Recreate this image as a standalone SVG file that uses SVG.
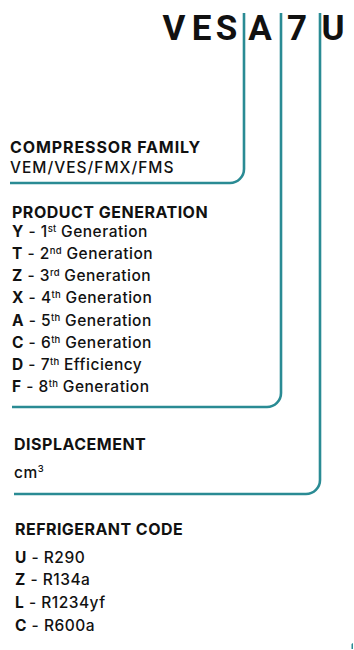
<svg xmlns="http://www.w3.org/2000/svg" width="354" height="650" viewBox="0 0 354 650">
  <style>
    .code { font-family: Roboto, "Liberation Sans", sans-serif; font-weight: 700; font-size: 35px; fill: #111; text-anchor: middle; }
    .head { font-family: Inter, "Liberation Sans", sans-serif; font-weight: 700; font-size: 16px; letter-spacing: 0.5px; fill: #111; }
    .item { font-family: Inter, "Liberation Sans", sans-serif; font-weight: 500; font-size: 15.5px; letter-spacing: 0.5px; fill: #111; }
    .item .k { font-weight: 700; }
    .sup { font-size: 9.5px; letter-spacing: 0.2px; }
    .lead { fill: none; stroke: #2a8b94; stroke-width: 2.6; }
  </style>

  <!-- model code -->
  <g id="model-code">
    <text class="code" x="174" y="40">V</text>
    <text class="code" x="201.5" y="40">E</text>
    <text class="code" x="226.5" y="40">S</text>
    <text class="code" x="260" y="40">A</text>
    <text class="code" x="297" y="40">7</text>
    <text class="code" x="333" y="40">U</text>
  </g>

  <!-- leader lines from each code letter to its legend block -->
  <g id="connectors">
    <path class="lead" d="M244 13 V169 A14 14 0 0 1 230 183 H10"/>
    <path class="lead" d="M281 13 V393 A14 14 0 0 1 267 407 H12"/>
    <path class="lead" d="M320 13 V480 A14 14 0 0 1 306 494 H14"/>
  </g>

  <g id="compressor-family">
    <text class="head" x="10" y="153" style="letter-spacing:0.9px">COMPRESSOR FAMILY</text>
    <text class="item" x="10" y="173" style="letter-spacing:1px">VEM/VES/FMX/FMS</text>
  </g>

  <g id="product-generation">
    <text class="head" x="12" y="218">PRODUCT GENERATION</text>
    <text class="item" x="12" y="237"><tspan class="k">Y</tspan> - 1<tspan class="sup" dy="-5">st</tspan><tspan dy="5"> Generation</tspan></text>
    <text class="item" x="12" y="259"><tspan class="k">T</tspan> - 2<tspan class="sup" dy="-5">nd</tspan><tspan dy="5"> Generation</tspan></text>
    <text class="item" x="12" y="281"><tspan class="k">Z</tspan> - 3<tspan class="sup" dy="-5">rd</tspan><tspan dy="5"> Generation</tspan></text>
    <text class="item" x="12" y="303"><tspan class="k">X</tspan> - 4<tspan class="sup" dy="-5">th</tspan><tspan dy="5"> Generation</tspan></text>
    <text class="item" x="12" y="326"><tspan class="k">A</tspan> - 5<tspan class="sup" dy="-5">th</tspan><tspan dy="5"> Generation</tspan></text>
    <text class="item" x="12" y="348"><tspan class="k">C</tspan> - 6<tspan class="sup" dy="-5">th</tspan><tspan dy="5"> Generation</tspan></text>
    <text class="item" x="12" y="370"><tspan class="k">D</tspan> - 7<tspan class="sup" dy="-5">th</tspan><tspan dy="5"> Efficiency</tspan></text>
    <text class="item" x="12" y="392"><tspan class="k">F</tspan> - 8<tspan class="sup" dy="-5">th</tspan><tspan dy="5"> Generation</tspan></text>
  </g>

  <g id="displacement">
    <text class="head" x="14" y="450">DISPLACEMENT</text>
    <text class="item" x="14" y="478">cm<tspan class="sup" dy="-6">3</tspan></text>
  </g>

  <g id="refrigerant-code">
    <text class="head" x="15" y="535" style="letter-spacing:0.45px">REFRIGERANT CODE</text>
    <text class="item" x="15" y="563"><tspan class="k">U</tspan> - R290</text>
    <text class="item" x="15" y="585"><tspan class="k">Z</tspan> - R134a</text>
    <text class="item" x="15" y="608"><tspan class="k">L</tspan> - R1234yf</text>
    <text class="item" x="15" y="631"><tspan class="k">C</tspan> - R600a</text>
  </g>

  <!-- small mark at the lower right edge -->
  <path d="M351.5 644 L353 643 V649 H351.5 Z" fill="#2a8b94"/>
</svg>
